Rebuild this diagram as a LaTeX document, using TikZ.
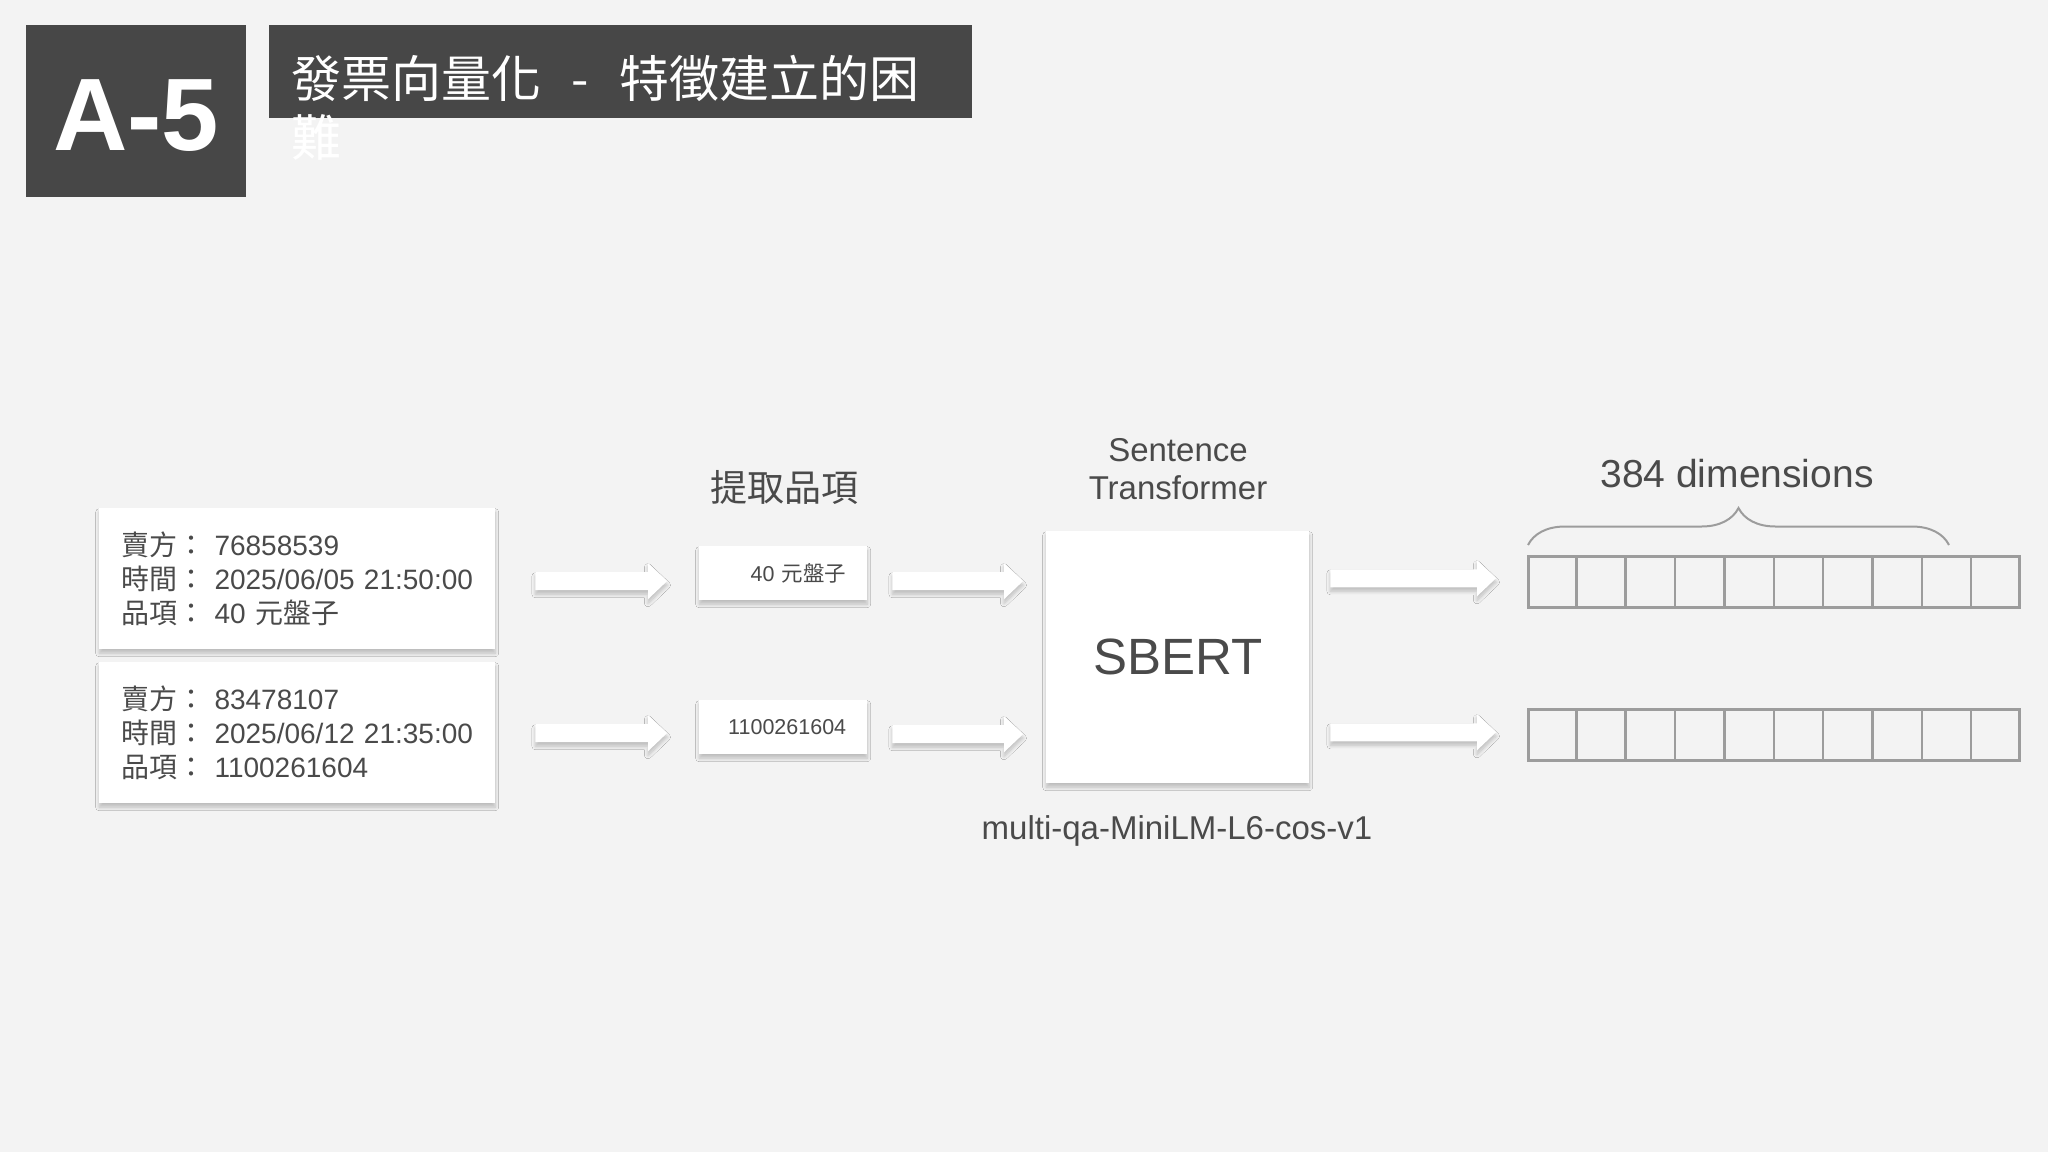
\documentclass[tikz,border=0pt]{standalone}
\usepackage{fontspec}
\setmainfont{Liberation Sans}
\newfontfamily\cjk{Noto Sans CJK TC}
\usetikzlibrary{calc,shadows.blur,decorations.pathreplacing}
\definecolor{bg}{HTML}{F3F3F3}
\definecolor{dark}{HTML}{474747}
\definecolor{txt}{HTML}{4A4A4A}
\definecolor{vecgray}{HTML}{9C9C9C}
\tikzset{
  shad/.style={blur shadow={shadow xshift=0pt, shadow yshift=-4pt, shadow blur radius=3.5pt, shadow blur steps=8, shadow opacity=22}},
  card/.style={fill=white, draw=none, shad, inner sep=0pt},
  darkbox/.style={fill=dark, draw=none, inner sep=0pt, anchor=north west},
  label/.style={text=txt, inner sep=0pt},
  vecbox/.style={draw=vecgray, line width=2.5pt, minimum width=491pt, minimum height=51pt, inner sep=0pt, anchor=north west},
  vecline/.style={draw=vecgray, line width=2.5pt},
}
\newcommand\blockarrow[2]{%
  \path[fill=white, shad] let \p1=(#1), \p2=(#2) in
    (\x1,{\y1+9pt}) -- ({\x2-19pt},{\y1+9pt}) -- ({\x2-19pt},{\y1+18pt}) -- (\x2,\y1)
    -- ({\x2-19pt},{\y1-18pt}) -- ({\x2-19pt},{\y1-9pt}) -- (\x1,{\y1-9pt}) -- cycle;}
\begin{document}
\begin{tikzpicture}[x=1pt,y=-1pt]
\fill[bg] (0,0) rectangle (2048,1152);
\useasboundingbox (0,0) rectangle (2048,1152);

% header
\node[darkbox, minimum width=220pt, minimum height=172pt] (abox) at (26,25) {};
\node[text=white, inner sep=0pt, font=\fontsize{103}{103}\selectfont\bfseries] (alabel) at (136,116) {A-5};
\node[darkbox, minimum width=703pt, minimum height=93pt] (tbar) at (269,25) {};
\node[text=white, anchor=base west, inner sep=0pt, font=\cjk\fontsize{50}{59}\selectfont] (title) at (291,97) {發票向量化\hspace{30pt}-\hspace{31pt}特徵建立的困};
\node[text=white, anchor=base west, inner sep=0pt, font=\cjk\fontsize{50}{59}\selectfont] (title2) at (291,156) {難};

% invoice cards
\node[card, anchor=north west, minimum height=141pt, text width=352pt, inner xsep=22pt, align=left, text=txt, font=\fontsize{28}{34}\selectfont] (inv1) at (99,508)
  {{\cjk 賣方：} 76858539\\{\cjk 時間：} 2025/06/05 21:50:00\\{\cjk 品項：} 40 {\cjk 元盤子}};
\node[card, anchor=north west, minimum height=141pt, text width=352pt, inner xsep=22pt, align=left, text=txt, font=\fontsize{28}{34}\selectfont] (inv2) at (99,662)
  {{\cjk 賣方：} 83478107\\{\cjk 時間：} 2025/06/12 21:35:00\\{\cjk 品項：} 1100261604};

% item cards
\node[card, anchor=north west, minimum height=54pt, text width=126pt, inner xsep=21pt, align=right, text=txt, font=\fontsize{21.5}{26}\selectfont] (item1) at (699,546) {40 {\cjk 元盤子}};
\node[card, anchor=north west, minimum height=54pt, text width=126pt, inner xsep=21pt, align=right, text=txt, font=\fontsize{21.5}{26}\selectfont] (item2) at (699,700) {1100261604};

% SBERT
\node[card, anchor=north west, minimum width=263pt, minimum height=252pt, text=txt, font=\fontsize{51}{60}\selectfont] (sbert) at (1046,531) {SBERT};

% labels
\node[label, font=\cjk\fontsize{37}{44}\selectfont] (lbl1) at (784,487) {提取品項};
\node[label, align=center, font=\fontsize{33}{38}\selectfont] (lbl2) at (1178,469) {Sentence\\Transformer};
\node[label, font=\fontsize{33}{40}\selectfont] (lbl3) at (1177,831) {multi-qa-MiniLM-L6-cos-v1};
\node[label, font=\fontsize{39}{46}\selectfont] (lbl4) at (1737,474) {384 dimensions};

% vectors
\node[vecbox] (vec1) at (1527,555) {};
\node[vecbox] (vec2) at (1527,708) {};
\foreach \i in {1,...,9} {
  \draw[vecline] ($(vec1.north west)!\i/10!(vec1.north east)$) -- ($(vec1.south west)!\i/10!(vec1.south east)$);
  \draw[vecline] ($(vec2.north west)!\i/10!(vec2.north east)$) -- ($(vec2.south west)!\i/10!(vec2.south east)$);
}
\draw[vecgray, line width=2pt, decorate, decoration={brace, amplitude=37pt}]
  ($(vec1.north west)+(1,-10)$) -- ($(vec1.north west)+(422,-10)$);

% arrows
\blockarrow{$(inv1.east)+(40,2.5)$}{$(item1.west)+(-32,0)$}
\blockarrow{$(inv2.east)+(40,0.5)$}{$(item2.west)+(-32,0)$}
\blockarrow{$(item1.east)+(25,8)$}{$(sbert.west)+(-23,0)$}
\blockarrow{$(item2.east)+(25,7)$}{$(sbert.west)+(-23,0)$}
\blockarrow{$(sbert.east |- vec1.west)+(21,-3.5)$}{$(vec1.west)+(-31,0)$}
\blockarrow{$(sbert.east |- vec2.west)+(21,-2.5)$}{$(vec2.west)+(-31,0)$}
\end{tikzpicture}
\end{document}
